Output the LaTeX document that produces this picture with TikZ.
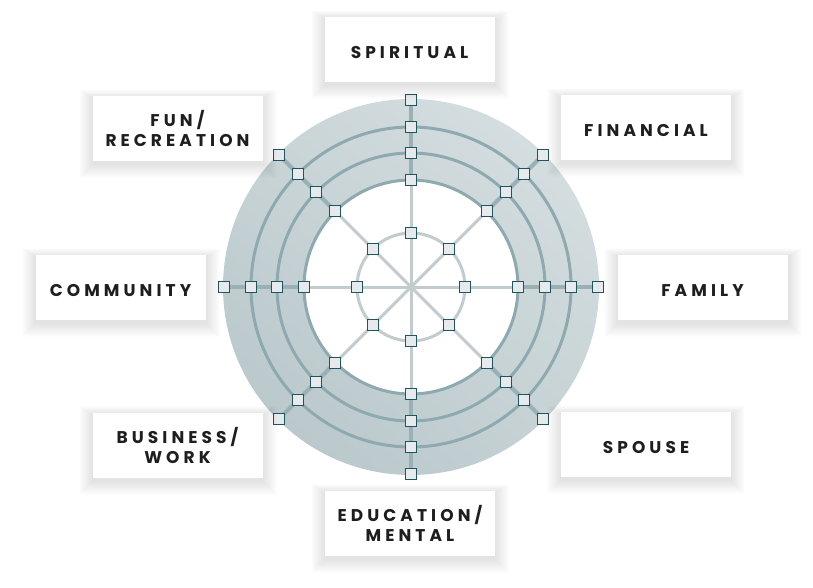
\documentclass[tikz,border=0pt]{standalone}
\usepackage{fontspec}
\usetikzlibrary{calc}
\newfontfamily\lblfont{Poppins}[LetterSpace=24]
\definecolor{diskA}{HTML}{D4DDDF}
\definecolor{diskB}{HTML}{BBC9CC}
\definecolor{ringc}{HTML}{8EA9AF}
\definecolor{spokedark}{HTML}{9AB0B5}
\definecolor{spokelight}{HTML}{C2CBCE}
\definecolor{sqfill}{HTML}{E7EAEC}
\definecolor{sqdraw}{HTML}{21545D}
\definecolor{txt}{HTML}{1E1E1E}
\tikzset{
  sq/.style={rectangle,draw=sqdraw,fill=sqfill,line width=1.1pt,minimum size=11pt,inner sep=0pt},
  lblbase/.style={rectangle,fill=white,minimum width=170pt,minimum height=65pt,inner sep=0pt,
    text=txt,font=\lblfont\bfseries\fontsize{17}{20}\selectfont},
  lbl/.style={lblbase,align=center},
  lblone/.style={lblbase,text height=18pt,text depth=0pt},
  ring/.style={draw=ringc,line width=3pt},
  spokeD/.style={draw=spokedark,line width=4pt},
  spokeL/.style={draw=spokelight,line width=3pt}
}
\newcommand\labelbox[5]{%
  \foreach \s in {1,...,14}{\fill[black,opacity=0.008] (#3-85-\s,#4-32.5-0.6*\s+2) rectangle (#3+85+\s,#4+32.5+\s+3);}
  \node[#1] (#2) at (#3,#4) {#5};
}
\begin{document}
\begin{tikzpicture}[x=1pt,y=-1pt]
\useasboundingbox (0,0) rectangle (813,587);
\coordinate (O) at (411,287);
% disk
\shade[top color=diskA,bottom color=diskB,shading angle=-40] (O) circle (188);
% dark spokes
\foreach \a in {0,45,...,315}{\path[spokeD] (O) -- ++(\a:187);}
% rings
\draw[ring] (O) circle (160);
\draw[ring] (O) circle (134);
\draw[ring,fill=white] (O) circle (107);
% light spokes and small circle
\foreach \a in {0,45,...,315}{\path[spokeL] (O) -- ++(\a:107);}
\draw[spokeL] (O) circle (54);
% squares
\foreach \a in {0,45,...,315}{
  \foreach \r/\k in {187/a,160/b,134/c,107/d}{\node[sq] (s\a\k) at ($(O)+(\a:\r)$) {};}
}
\foreach \a in {0,45,...,315}{\node[sq] (s\a e) at ($(O)+(\a:54)$) {};}
% labels
\labelbox{lblone}{spiritual}{409.5}{49.5}{SPIRITUAL}
\labelbox{lblone}{financial}{646}{127.5}{FINANCIAL}
\labelbox{lblone}{family}{702.5}{287}{FAMILY}
\labelbox{lblone}{spouse}{646}{444.5}{SPOUSE}
\labelbox{lbl}{education}{410}{523}{EDUCATION/\\MENTAL}
\labelbox{lbl}{business}{177.5}{445}{BUSINESS/\\WORK}
\labelbox{lblone}{community}{120.5}{287.5}{COMMUNITY}
\labelbox{lbl}{fun}{177.5}{128.5}{FUN/\\RECREATION}
\end{tikzpicture}
\end{document}
